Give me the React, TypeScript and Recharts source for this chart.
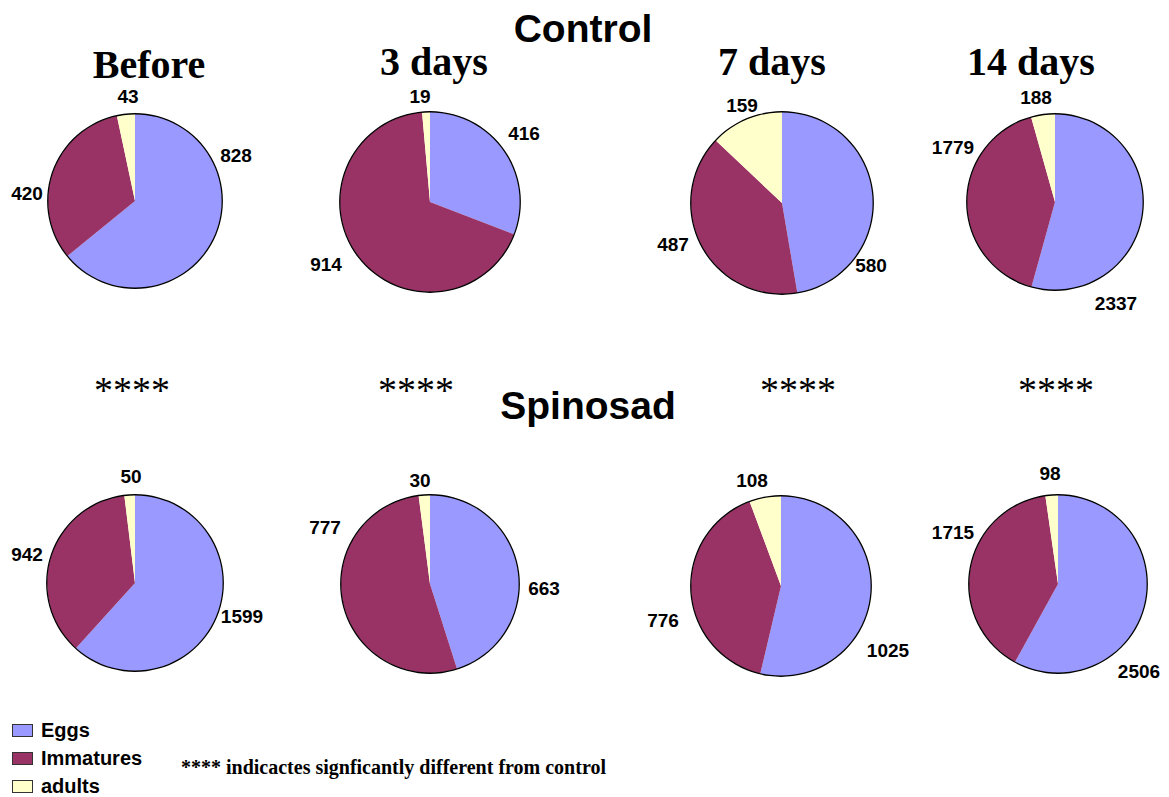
import { PieChart, Pie, Cell } from "recharts";

const categories = ["Eggs", "Immatures", "adults"];
const periods = ["Before", "3 days", "7 days", "14 days"];

const controlEggs = [828, 416, 580, 2337];
const controlImmatures = [420, 914, 487, 1779];
const controlAdults = [43, 19, 159, 188];

const spinosadEggs = [1599, 663, 1025, 2506];
const spinosadImmatures = [942, 777, 776, 1715];
const spinosadAdults = [50, 30, 108, 98];

const COLORS = ["#9999FF", "#993366", "#FFFFCC"];

// layout only: pie centres, radii and where each value label sits (offset from centre)
const topRow = [
  { cx: 135, cy: 201, r: 87, labels: [[101, -46], [-108, -8], [-7, -105]] },
  { cx: 430, cy: 202, r: 90, labels: [[94, -69], [-104, 62], [-10, -106]] },
  { cx: 782, cy: 203, r: 91, labels: [[89, 62], [-109, 41], [-40, -98]] },
  { cx: 1055, cy: 202, r: 88, labels: [[61, 101], [-102, -55], [-19, -105]] },
];
const bottomRow = [
  { cx: 135, cy: 583, r: 88, labels: [[107, 33], [-108, -29], [-4, -107]] },
  { cx: 430, cy: 584, r: 89, labels: [[114, 4], [-105, -57], [-10, -104]] },
  { cx: 781, cy: 586, r: 90, labels: [[107, 64], [-118, 34], [-29, -106]] },
  { cx: 1058, cy: 584, r: 89, labels: [[81, 87], [-105, -52], [-8, -111]] },
];

const periodTitleX = [149, 434, 772, 1031];
const starsX = [132, 416, 798, 1056];

const buildRow = (eggs: number[], imm: number[], adults: number[]) =>
  periods.map((_, i) => [
    { name: categories[0], value: eggs[i] },
    { name: categories[1], value: imm[i] },
    { name: categories[2], value: adults[i] },
  ]);

const controlData = buildRow(controlEggs, controlImmatures, controlAdults);
const spinosadData = buildRow(spinosadEggs, spinosadImmatures, spinosadAdults);

const sans = "'Liberation Sans', Arial, sans-serif";
const serif = "'Liberation Serif', 'Times New Roman', serif";

const makeLabel = (pos: { cx: number; cy: number; labels: number[][] }) => (props: any) => {
  const [dx, dy] = pos.labels[props.index];
  return (
    <text
      x={pos.cx + dx}
      y={pos.cy + dy}
      textAnchor="middle"
      dominantBaseline="central"
      fontFamily={sans}
      fontWeight="bold"
      fontSize={19}
      fill="#000"
    >
      {props.value}
    </text>
  );
};

const Abs = ({ x, y, children, style }: any) => (
  <div
    style={{
      position: "absolute",
      left: x,
      top: y,
      transform: "translate(-50%, -50%)",
      whiteSpace: "nowrap",
      lineHeight: 1,
      ...style,
    }}
  >
    {children}
  </div>
);

const renderPies = (rows: typeof controlData, layout: typeof topRow, key: string) =>
  rows.map((data, i) => {
    const p = layout[i];
    return [
      <Pie
        key={`${key}-${i}`}
        data={data}
        dataKey="value"
        cx={p.cx}
        cy={p.cy}
        outerRadius={p.r}
        startAngle={90}
        endAngle={-270}
        stroke="none"
        labelLine={false}
        label={makeLabel(p)}
        isAnimationActive={false}
      >
        {data.map((_, j) => (
          <Cell key={`c-${j}`} fill={COLORS[j]} />
        ))}
      </Pie>,
      <Pie
        key={`${key}-ring-${i}`}
        data={[{ value: 1 }]}
        dataKey="value"
        cx={p.cx}
        cy={p.cy}
        innerRadius={p.r - 0.4}
        outerRadius={p.r + 0.9}
        startAngle={90}
        endAngle={-270}
        fill="#000"
        stroke="none"
        isAnimationActive={false}
      />,
    ];
  });

export default function App() {
  return (
    <div
      style={{
        position: "absolute",
        left: 0,
        top: 0,
        width: 1169,
        height: 797,
        background: "#fff",
        overflow: "hidden",
      }}
    >
      <PieChart width={1169} height={797} margin={{ top: 0, right: 0, bottom: 0, left: 0 }}>
        {renderPies(controlData, topRow, "ctl")}
        {renderPies(spinosadData, bottomRow, "spn")}
      </PieChart>

      <Abs x={583} y={28} style={{ fontFamily: sans, fontWeight: "bold", fontSize: 39 }}>
        Control
      </Abs>
      <Abs x={588} y={405} style={{ fontFamily: sans, fontWeight: "bold", fontSize: 39 }}>
        Spinosad
      </Abs>
      {periods.map((t, i) => (
        <Abs
          key={t}
          x={periodTitleX[i]}
          y={i === 0 ? 65 : 62}
          style={{ fontFamily: serif, fontWeight: "bold", fontSize: 40, lineHeight: 0.95 }}
        >
          {t}
        </Abs>
      ))}
      {starsX.map((x, i) => (
        <Abs key={i} x={x} y={390} style={{ fontFamily: serif, fontSize: 38 }}>
          ****
        </Abs>
      ))}

      {categories.map((c, i) => (
        <div
          key={c}
          style={{
            position: "absolute",
            left: 12,
            top: 720 + i * 28,
            display: "flex",
            alignItems: "center",
            fontFamily: sans,
            fontWeight: "bold",
            fontSize: 20,
            lineHeight: 1,
          }}
        >
          <span
            style={{
              display: "inline-block",
              width: 19,
              height: 11,
              background: COLORS[i],
              border: "1px solid #333",
              marginRight: 8,
            }}
          />
          {c}
        </div>
      ))}
      <div
        style={{
          position: "absolute",
          left: 181,
          top: 757,
          fontFamily: serif,
          fontWeight: "bold",
          fontSize: 20,
          lineHeight: 1,
          whiteSpace: "nowrap",
        }}
      >
        **** indicactes signficantly different from control
      </div>
    </div>
  );
}
